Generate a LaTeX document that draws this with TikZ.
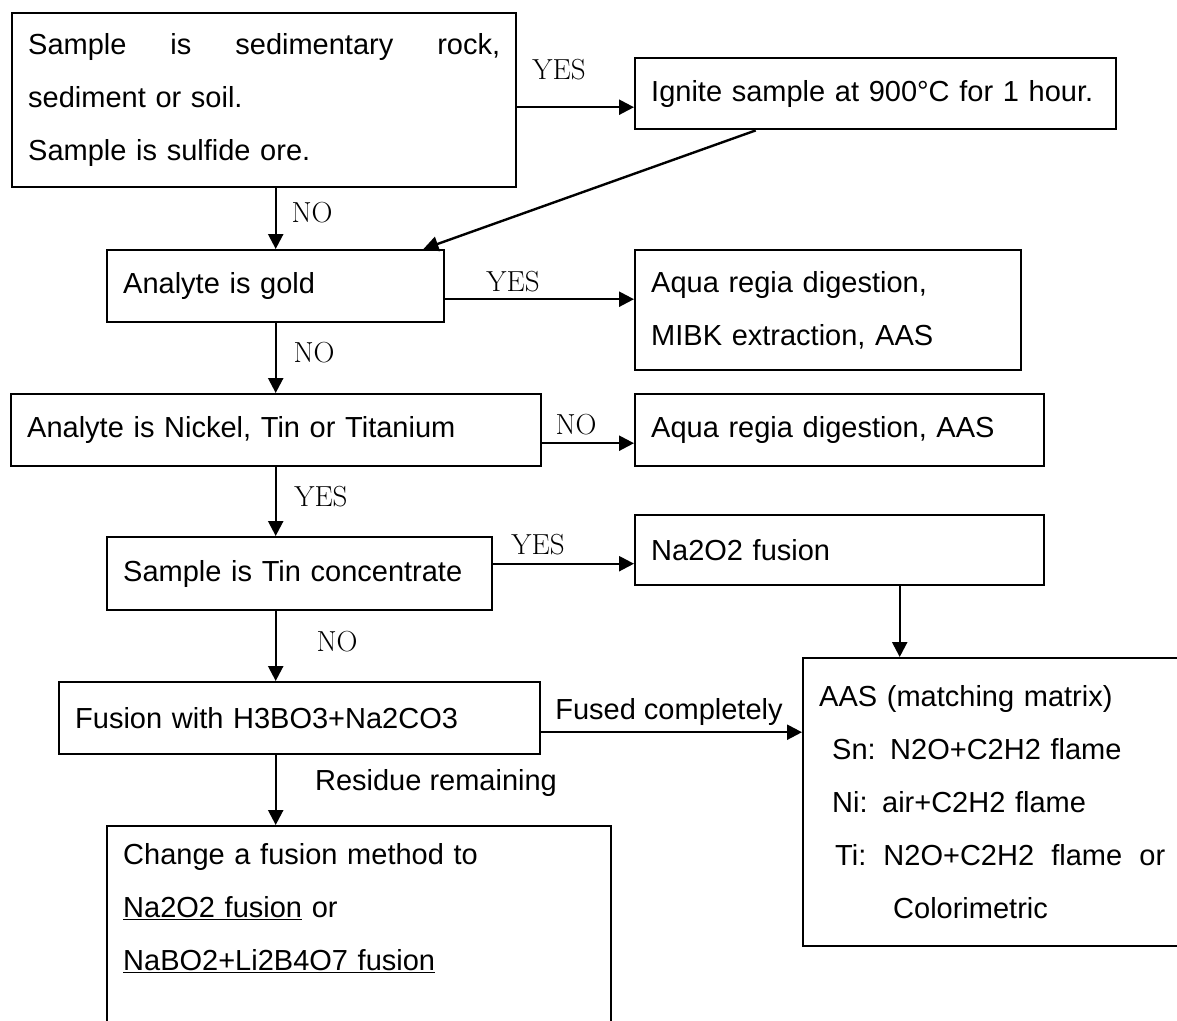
\documentclass[tikz,border=0pt]{standalone}
\usepackage{fontspec}
\newfontfamily\arialfont{Liberation Sans}
\usetikzlibrary{arrows.meta}
\tikzstyle{stepbox} = [draw, line width=2.4pt, anchor=north west, align=left, inner xsep=16pt, inner ysep=0pt, font=\arialfont\fontsize{29}{53}\selectfont]
\tikzstyle{arr} = [line width=2.4pt, -{Triangle[length=15pt,width=15pt]}]
\tikzstyle{lbl} = [inner sep=0pt, font=\fontsize{29}{34}\selectfont]
\tikzstyle{slbl} = [inner sep=0pt, font=\arialfont\fontsize{29}{34}\selectfont]

\begin{document}
\begin{tikzpicture}[x=1pt,y=-1pt]
\path[use as bounding box, clip] (0,0) rectangle (1177,1020);
% boxes
\node[stepbox, text width=472pt, minimum height=174pt] (rock) at (11,12)
  {Sample\hfill is\hfill sedimentary\hfill rock,\\ sediment or soil.\\ Sample is sulfide ore.};
\node[stepbox, text width=449pt, minimum height=71pt] (ignite) at (634,57) {Ignite sample at 900°C for 1 hour.};
\node[stepbox, text width=305pt, minimum height=72pt] (gold) at (106,249) {Analyte is gold};
\node[stepbox, text width=354pt, minimum height=120pt] (mibk) at (634,249) {Aqua regia digestion,\\ MIBK extraction, AAS};
\node[stepbox, text width=498pt, minimum height=72pt] (nickel) at (10,393) {Analyte is Nickel, Tin or Titanium};
\node[stepbox, text width=377pt, minimum height=72pt] (aqua) at (634,393) {Aqua regia digestion, AAS};
\node[stepbox, text width=353pt, minimum height=73pt] (tin) at (106,536) {Sample is Tin concentrate};
\node[stepbox, text width=377pt, minimum height=70pt] (naoo) at (634,514) {Na2O2 fusion};
\node[stepbox, text width=449pt, minimum height=72pt] (fusion) at (58,681) {Fusion with H3BO3+Na2CO3};
\node[stepbox, text width=472pt, minimum height=215pt] (change) at (106,825)
  {Change a fusion method to\\ \underline{Na2O2 fusion} or\\ \underline{NaBO2+Li2B4O7 fusion}\\ ~};
\node[stepbox, text width=346pt, minimum height=288pt] (aas) at (802,657)
  {AAS (matching matrix)\\
   \hspace*{13pt}Sn: N2O+C2H2 flame\\
   \hspace*{13pt}Ni: air+C2H2 flame\\
   \hspace*{16pt}Ti:\hfill N2O+C2H2\hfill flame\hfill or\\
   \hspace*{74pt}Colorimetric};

% connectors
\draw[arr] ([yshift=-7pt]rock.east) -- ([yshift=-7pt]rock.east -| ignite.west);
\draw[arr] (rock.south -| gold.north) -- (gold.north);
\draw[arr] ([xshift=-120pt]ignite.south) -- ([xshift=-22pt]gold.north east);
\draw[arr] ([yshift=-13pt]gold.east) -- ([yshift=-13pt]gold.east -| mibk.west);
\draw[arr] (gold.south) -- (gold.south |- nickel.north);
\draw[arr] ([yshift=-13pt]nickel.east) -- ([yshift=-13pt]nickel.east -| aqua.west);
\draw[arr] (nickel.south -| gold.south) -- (gold.south |- tin.north);
\draw[arr] ([yshift=10pt]tin.east) -- ([yshift=10pt]tin.east -| naoo.west);
\draw[arr] (tin.south -| gold.south) -- (gold.south |- fusion.north);
\draw[arr] ([xshift=60pt]naoo.south) -- ([xshift=60pt]naoo.south |- aas.north);
\draw[arr] ([yshift=-14pt]fusion.east) -- ([yshift=-14pt]fusion.east -| aas.west);
\draw[arr] (fusion.south -| gold.south) -- (gold.south |- change.north);

% labels
\node[lbl] (yes1) at (559,70) {YES};
\node[lbl] (no1) at (312,213) {NO};
\node[lbl] (yes2) at (513,282) {YES};
\node[lbl] (no2) at (314,353) {NO};
\node[lbl] (no3) at (576,425) {NO};
\node[lbl] (yes3) at (321,497) {YES};
\node[lbl] (yes4) at (538,545) {YES};
\node[lbl] (no4) at (337,642) {NO};
\node[slbl] (fused) at (669,712) {Fused completely};
\node[slbl] (residue) at (436,783) {Residue remaining};
\end{tikzpicture}
\end{document}
